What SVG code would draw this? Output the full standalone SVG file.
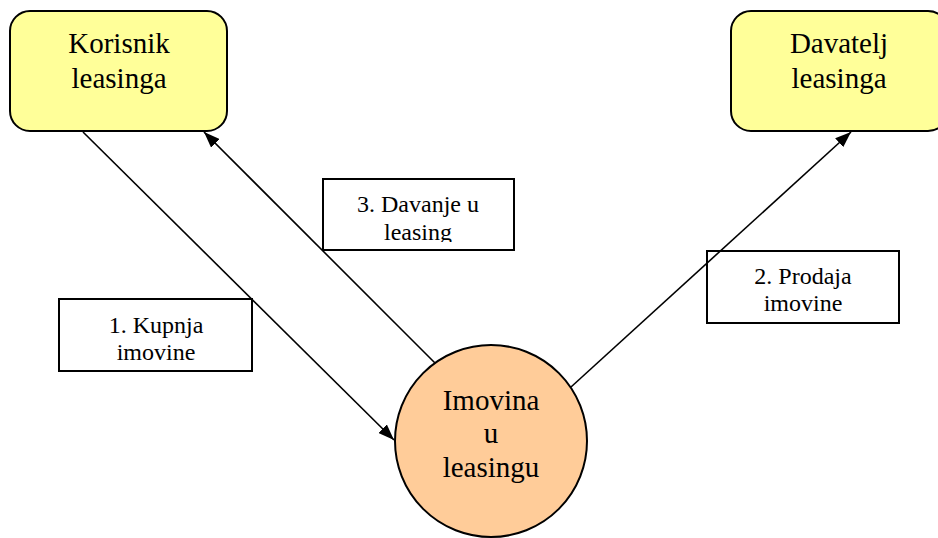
<svg xmlns="http://www.w3.org/2000/svg" width="938" height="538" viewBox="0 0 938 538">
  <style>
    .party { fill: #FFFF99; stroke: #000; stroke-width: 2; }
    .asset { fill: #FFCC99; stroke: #000; stroke-width: 2; }
    .label { fill: #FFFFFF; stroke: #000; stroke-width: 2; }
    .big { font-family: 'Liberation Serif', 'Times New Roman', serif; font-size: 29px; fill: #000; text-anchor: middle; }
    .small { font-family: 'Liberation Serif', 'Times New Roman', serif; font-size: 24px; fill: #000; text-anchor: middle; }
    .conn { stroke: #000; stroke-width: 1.6; fill: none; marker-end: url(#arrow); }
  </style>
  <defs>
    <marker id="arrow" viewBox="0 0 16 12" refX="16" refY="6" markerWidth="16" markerHeight="12" markerUnits="userSpaceOnUse" orient="auto">
      <path d="M0,0 L16,6 L0,12 z" fill="#000"/>
    </marker>
    <clipPath id="clip3">
      <rect x="323" y="179" width="191" height="63"/>
    </clipPath>
  </defs>
  <rect width="938" height="538" fill="#FFFFFF"/>

  <g id="korisnik">
    <rect class="party" x="10" y="11" width="217" height="120" rx="20" ry="20"/>
    <text class="big" x="119" y="53">Korisnik</text>
    <text class="big" x="119" y="88">leasinga</text>
  </g>

  <g id="davatelj">
    <rect class="party" x="731" y="11" width="217" height="120" rx="20" ry="20"/>
    <text class="big" x="839" y="53">Davatelj</text>
    <text class="big" x="839" y="88">leasinga</text>
  </g>

  <g id="imovina">
    <circle class="asset" cx="491" cy="441" r="96"/>
    <text class="big" x="491" y="410">Imovina</text>
    <text class="big" x="491" y="443">u</text>
    <text class="big" x="491" y="477">leasingu</text>
  </g>

  <g id="label-1">
    <rect class="label" x="59" y="299" width="193" height="72"/>
    <text class="small" x="156" y="333">1. Kupnja</text>
    <text class="small" x="156" y="360">imovine</text>
  </g>

  <g id="label-2">
    <rect class="label" x="707" y="251" width="192" height="72"/>
    <text class="small" x="803" y="284">2. Prodaja</text>
    <text class="small" x="803" y="311">imovine</text>
  </g>

  <g id="label-3">
    <rect class="label" x="323" y="179" width="191" height="71"/>
    <g clip-path="url(#clip3)">
      <text class="small" x="418" y="212">3. Davanje u</text>
      <text class="small" x="418" y="240">leasing</text>
    </g>
  </g>

  <g id="connectors">
    <line class="conn" x1="83" y1="132" x2="394" y2="440"/>
    <line class="conn" x1="571" y1="387" x2="851" y2="132"/>
    <line class="conn" x1="435" y1="363" x2="204" y2="132"/>
  </g>
</svg>
